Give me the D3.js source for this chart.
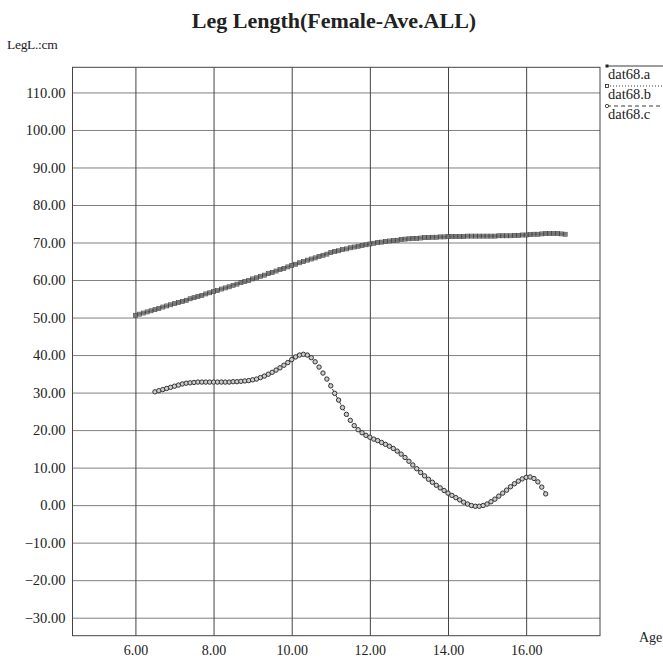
<!DOCTYPE html>
<html>
<head>
<meta charset="utf-8">
<script src="https://cdn.jsdelivr.net/npm/d3@7"></script>
<style>
  html, body { margin: 0; padding: 0; background: #fff; }
  svg { display: block; }
</style>
</head>
<body>
<svg id="chart" width="663" height="659"></svg>
<script>
// ---------- data ----------
const title = "Leg Length(Female-Ave.ALL)";
const yAxisTitle = "LegL.:cm";
const xAxisTitle = "Age";
const seriesNames = ["dat68.a", "dat68.b", "dat68.c"];
const xTickValues = [6, 8, 10, 12, 14, 16];
const yTickValues = [-30, -20, -10, 0, 10, 20, 30, 40, 50, 60, 70, 80, 90, 100, 110];

const ageA = [6.0,6.1,6.2,6.3,6.4,6.5,6.6,6.7,6.8,6.9,7.0,
  7.1,7.2,7.3,7.4,7.5,7.6,7.7,7.8,7.9,8.0,
  8.1,8.2,8.3,8.4,8.5,8.6,8.7,8.8,8.9,9.0,
  9.1,9.2,9.3,9.4,9.5,9.6,9.7,9.8,9.9,10.0,
  10.1,10.2,10.3,10.4,10.5,10.6,10.7,10.8,10.9,11.0,
  11.1,11.2,11.3,11.4,11.5,11.6,11.7,11.8,11.9,12.0,
  12.1,12.2,12.3,12.4,12.5,12.6,12.7,12.8,12.9,13.0,
  13.1,13.2,13.3,13.4,13.5,13.6,13.7,13.8,13.9,14.0,
  14.1,14.2,14.3,14.4,14.5,14.6,14.7,14.8,14.9,15.0,
  15.1,15.2,15.3,15.4,15.5,15.6,15.7,15.8,15.9,16.0,
  16.1,16.2,16.3,16.4,16.5,16.6,16.7,16.8,16.9,17.0];
const valA = [50.6,50.9,51.2,51.5,51.8,52.1,52.4,52.8,53.1,53.4,53.7,
  54.0,54.3,54.6,55.0,55.3,55.6,55.9,56.3,56.6,56.9,
  57.2,57.6,57.9,58.2,58.6,58.9,59.3,59.6,59.9,60.3,
  60.6,61.0,61.3,61.7,62.0,62.4,62.8,63.1,63.5,63.9,
  64.2,64.6,64.9,65.3,65.6,65.9,66.3,66.6,66.9,67.3,
  67.6,67.8,68.1,68.3,68.6,68.8,69.0,69.2,69.4,69.6,
  69.8,70.0,70.1,70.3,70.4,70.5,70.6,70.8,70.9,71.0,
  71.1,71.1,71.2,71.3,71.3,71.4,71.4,71.5,71.5,71.6,
  71.6,71.6,71.6,71.6,71.7,71.7,71.7,71.7,71.7,71.7,
  71.7,71.7,71.8,71.8,71.8,71.8,71.9,71.9,72.0,72.0,
  72.1,72.2,72.2,72.3,72.4,72.4,72.4,72.4,72.3,72.2];
// dat68.b coincides with dat68.a in the reference
const ageB = ageA;
const valB = valA;

const ageC = [6.5,6.6,6.7,6.8,6.9,7.0,
  7.1,7.2,7.3,7.4,7.5,7.6,7.7,7.8,7.9,8.0,
  8.1,8.2,8.3,8.4,8.5,8.6,8.7,8.8,8.9,9.0,
  9.1,9.2,9.3,9.4,9.5,9.6,9.7,9.8,9.9,10.0,
  10.1,10.2,10.3,10.4,10.5,10.6,10.7,10.8,10.9,11.0,
  11.1,11.2,11.3,11.4,11.5,11.6,11.7,11.8,11.9,12.0,
  12.1,12.2,12.3,12.4,12.5,12.6,12.7,12.8,12.9,13.0,
  13.1,13.2,13.3,13.4,13.5,13.6,13.7,13.8,13.9,14.0,
  14.1,14.2,14.3,14.4,14.5,14.6,14.7,14.8,14.9,15.0,
  15.1,15.2,15.3,15.4,15.5,15.6,15.7,15.8,15.9,16.0,
  16.1,16.2,16.3,16.4,16.5];
const valC = [30.2,30.5,30.8,31.1,31.4,31.7,
  32.0,32.3,32.5,32.6,32.7,32.8,32.8,32.8,32.8,32.8,
  32.8,32.8,32.8,32.8,32.9,32.9,33.0,33.1,33.2,33.4,
  33.6,34.0,34.4,34.9,35.4,36.0,36.6,37.3,38.0,38.8,
  39.5,40.0,40.2,40.0,39.3,38.2,36.8,35.2,33.6,31.8,
  29.8,28.0,26.0,24.2,22.6,21.2,20.1,19.3,18.6,18.1,
  17.6,17.2,16.7,16.2,15.7,15.1,14.4,13.6,12.7,11.7,
  10.7,9.7,8.7,7.8,6.9,6.1,5.3,4.6,3.9,3.2,
  2.6,2.0,1.4,0.8,0.3,-0.1,-0.3,-0.3,-0.1,0.3,
  0.9,1.6,2.4,3.2,4.0,4.9,5.7,6.4,7.0,7.4,
  7.5,7.1,6.2,4.8,3.0];

// ---------- layout ----------
const svg = d3.select("#chart");
const plot = { left: 72.5, right: 600, top: 67.3, bottom: 635.7 };
const x = d3.scaleLinear().domain([4.39, 17.89]).range([plot.left, plot.right]);
const y = d3.scaleLinear().domain([-34.8, 116.7]).range([plot.bottom, plot.top]);
const fmt = d3.format(".2f");
const serif = "'Liberation Serif', 'Times New Roman', serif";
const ink = "#3a3a3a";

// title
svg.append("text").attr("x", 334).attr("y", 28)
  .attr("text-anchor", "middle").attr("font-family", serif)
  .attr("font-weight", "bold").attr("font-size", 22).attr("fill", "#222")
  .text(title);
svg.append("text").attr("x", 7).attr("y", 49)
  .attr("font-family", serif).attr("font-size", 13.5).attr("fill", "#222")
  .attr("letter-spacing", -0.3)
  .text(yAxisTitle);
svg.append("text").attr("x", 639).attr("y", 642)
  .attr("font-family", serif).attr("font-size", 14).attr("fill", "#222")
  .text(xAxisTitle);

// gridlines via axes
const gY = svg.append("g").attr("transform", `translate(${plot.left},0)`)
  .call(d3.axisLeft(y).tickValues(yTickValues).tickFormat(fmt)
    .tickSize(-(plot.right - plot.left)).tickPadding(7));
gY.select(".domain").remove();
gY.selectAll(".tick line").attr("stroke", "#808080").attr("stroke-width", 1);
gY.selectAll(".tick text").attr("font-family", serif).attr("font-size", 14.5).attr("fill", "#222");

const gX = svg.append("g").attr("transform", `translate(0,${plot.bottom})`)
  .call(d3.axisBottom(x).tickValues(xTickValues).tickFormat(fmt)
    .tickSize(-(plot.bottom - plot.top)).tickPadding(9));
gX.select(".domain").remove();
gX.selectAll(".tick line").attr("stroke", "#444").attr("stroke-width", 1);
gX.selectAll(".tick text").attr("font-family", serif).attr("font-size", 14).attr("fill", "#222");

// frame
svg.append("rect").attr("x", plot.left).attr("y", plot.top)
  .attr("width", plot.right - plot.left).attr("height", plot.bottom - plot.top)
  .attr("fill", "none").attr("stroke", "#444").attr("stroke-width", 1);

// series
const zipped = (ages, vals) => ages.map((a, i) => ({ a, v: vals[i] }));
const dataA = zipped(ageA, valA), dataB = zipped(ageB, valB), dataC = zipped(ageC, valC);
const line = d3.line().x(d => x(d.a)).y(d => y(d.v));

svg.append("path").datum(dataA).attr("d", line).attr("fill", "none")
  .attr("stroke", ink).attr("stroke-width", 1);
svg.append("path").datum(dataB).attr("d", line).attr("fill", "none")
  .attr("stroke", ink).attr("stroke-width", 1).attr("stroke-dasharray", "1,2");
svg.append("path").datum(dataC).attr("d", line).attr("fill", "none")
  .attr("stroke", ink).attr("stroke-width", 1).attr("stroke-dasharray", "4,3");

svg.append("g").selectAll("rect").data(dataA).join("rect")
  .attr("x", d => x(d.a) - 1.6).attr("y", d => y(d.v) - 1.6)
  .attr("width", 3.2).attr("height", 3.2).attr("fill", "#777");
svg.append("g").selectAll("rect").data(dataB).join("rect")
  .attr("x", d => x(d.a) - 2).attr("y", d => y(d.v) - 2)
  .attr("width", 4).attr("height", 4).attr("fill", "none")
  .attr("stroke", "#444").attr("stroke-width", 0.7);
svg.append("g").selectAll("circle").data(dataC).join("circle")
  .attr("cx", d => x(d.a)).attr("cy", d => y(d.v)).attr("r", 2.2)
  .attr("fill", "#ccc").attr("stroke", "#333").attr("stroke-width", 1);

// legend
const legY = [66, 86, 106];
const dashes = [null, "1,2", "4,3"];
seriesNames.forEach((name, i) => {
  const g = svg.append("g");
  const l = g.append("line").attr("x1", 607).attr("x2", 663)
    .attr("y1", legY[i]).attr("y2", legY[i]).attr("stroke", ink).attr("stroke-width", 1);
  if (dashes[i]) l.attr("stroke-dasharray", dashes[i]);
  if (i === 0) g.append("rect").attr("x", 605.5).attr("y", legY[i] - 1.5).attr("width", 3).attr("height", 3).attr("fill", "#222");
  if (i === 1) g.append("rect").attr("x", 605.5).attr("y", legY[i] - 1.5).attr("width", 3).attr("height", 3).attr("fill", "#fff").attr("stroke", "#222").attr("stroke-width", 0.8);
  if (i === 2) g.append("circle").attr("cx", 607).attr("cy", legY[i]).attr("r", 1.7).attr("fill", "#fff").attr("stroke", "#222").attr("stroke-width", 0.8);
  g.append("text").attr("x", 608).attr("y", legY[i] + 13)
    .attr("font-family", serif).attr("font-size", 14.5).attr("fill", "#222").text(name);
});
</script>
</body>
</html>
